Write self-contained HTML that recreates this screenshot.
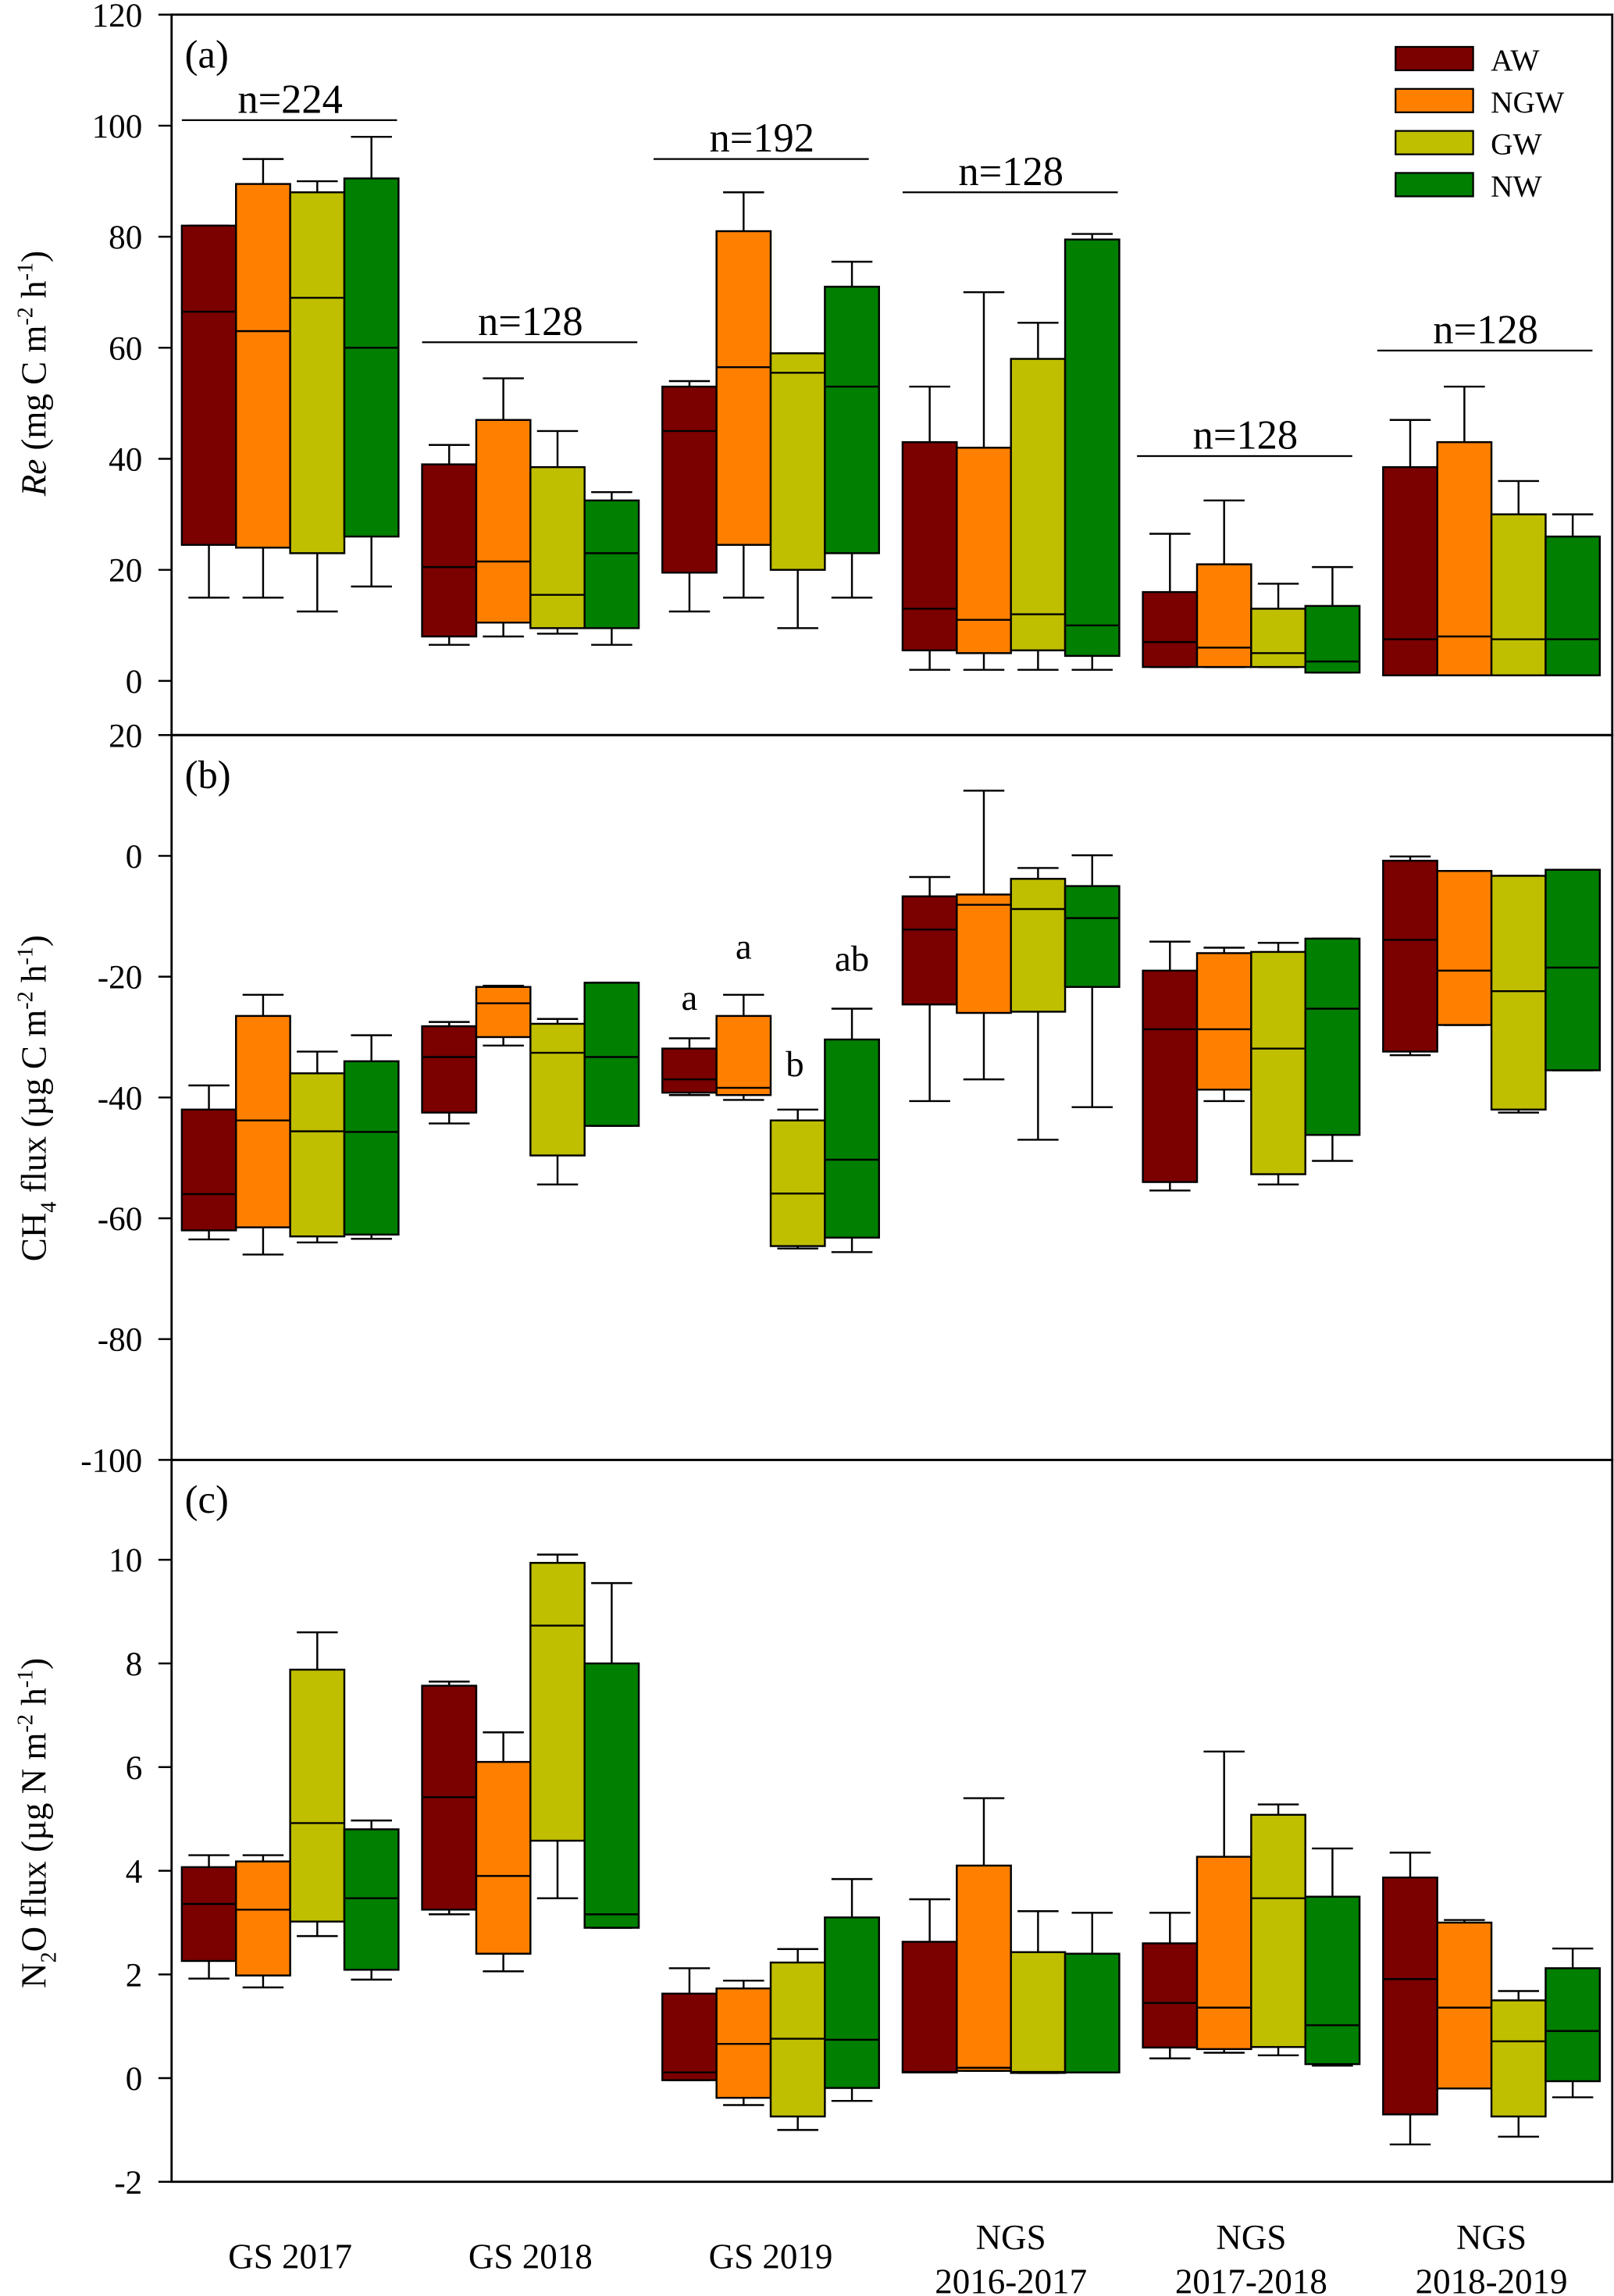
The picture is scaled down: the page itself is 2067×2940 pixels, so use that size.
<!DOCTYPE html>
<html><head><meta charset="utf-8"><style>
html,body{margin:0;padding:0;background:#fff}
svg{display:block}
text{font-family:"Liberation Serif",serif;fill:#000}
</style></head><body>
<svg id="chart" width="2067" height="2940" viewBox="0 0 1102 1568" xmlns="http://www.w3.org/2000/svg">
<rect x="0" y="0" width="1102" height="1568" fill="#fff"/>
<g id="g"></g>
</svg>
<script>
const groups = ["GS 2017","GS 2018","GS 2019","NGS|2016-2017","NGS|2017-2018","NGS|2018-2019"];
const series = ["AW","NGW","GW","NW"];
const colors = ["#7b0000","#ff8000","#bfbf00","#007f00"];
// [whiskerLow, q1, median, q3, whiskerHigh] per group per series
const reData = [
 [[15,24.5,66.5,82,82],[15,24,63,89.5,94],[12.5,23,69,88,90],[17,26,60,90.5,98]],
 [[6.5,8,20.5,39,42.5],[8,10.5,21.5,47,54.5],[8.5,9.5,15.5,38.5,45],[6.5,9.5,23,32.5,34]],
 [[12.5,19.5,45,53,54],[15,24.5,56.5,81,88],[9.5,20,55.5,59,59],[15,23,53,71,75.5]],
 [[2,5.5,13,43,53],[2,5,11,42,70],[2,5.5,12,58,64.5],[2,4.5,10,79.5,80.5]],
 [[2.5,2.5,7,16,26.5],[2.5,2.5,6,21,32.5],[2.5,2.5,5,13,17.5],[1.5,1.5,3.5,13.5,20.5]],
 [[1,1,7.5,38.5,47],[1,1,8,43,53],[1,1,7.5,30,36],[1,1,7.5,26,30]]
];
const ch4Data = [
 [[-63.5,-62,-56,-42,-38],[-66,-61.5,-43.8,-26.5,-23],[-64,-63,-45.6,-36,-32.4],[-63.4,-62.7,-45.7,-34,-29.7]],
 [[-44.3,-42.5,-33.3,-28.2,-27.5],[-31.4,-30,-24.4,-21.7,-21.5],[-54.4,-49.6,-32.6,-27.8,-27],[-44.7,-44.7,-33.3,-21,-21]],
 [[-39.6,-39.2,-37,-31.9,-30.2],[-40.4,-39.6,-38.4,-26.5,-23],[-65,-64.6,-55.9,-43.8,-42],[-65.6,-63.2,-50.3,-30.4,-25.3]],
 [[-40.6,-24.6,-12.2,-6.7,-3.5],[-37,-26,-8.1,-6.4,10.8],[-47,-25.8,-8.8,-3.8,-2],[-41.6,-21.7,-10.3,-5,0.1]],
 [[-55.4,-54,-28.7,-19,-14.2],[-40.6,-38.7,-28.7,-16.1,-15.2],[-54.4,-52.7,-31.9,-15.9,-14.4],[-50.5,-46.2,-25.3,-13.7,-13.7]],
 [[-33,-32.4,-13.9,-0.8,-0.1],[-28,-28,-19,-2.5,-2.5],[-42.5,-42,-22.4,-3.3,-3.3],[-35.5,-35.5,-18.5,-2.3,-2.3]]
];
const n2oData = [
 [[1.92,2.26,3.36,4.07,4.3],[1.75,1.98,3.25,4.18,4.3],[2.74,3.02,4.92,7.88,8.6],[1.9,2.09,3.47,4.8,4.97]],
 [[3.16,3.25,5.42,7.57,7.65],[2.06,2.4,3.9,6.1,6.67],[3.47,4.58,8.73,9.94,10.1],[2.9,2.9,3.16,8.0,9.55]],
 [[-0.04,-0.04,0.11,1.63,2.12],[-0.52,-0.38,0.66,1.73,1.88],[-1.0,-0.74,0.76,2.23,2.49],[-0.44,-0.19,0.74,3.1,3.84]],
 [[0.11,0.11,0.12,2.63,3.45],[0.14,0.14,0.2,4.1,5.4],[0.1,0.1,0.12,2.43,3.22],[0.11,0.11,0.11,2.4,3.19]],
 [[0.38,0.59,1.45,2.6,3.19],[0.49,0.56,1.36,4.27,6.3],[0.44,0.6,3.47,5.08,5.28],[0.24,0.27,1.02,3.5,4.43]],
 [[-1.28,-0.7,1.91,3.87,4.35],[-0.2,-0.2,1.36,3.0,3.05],[-1.13,-0.74,0.71,1.5,1.68],[-0.37,-0.06,0.91,2.12,2.5]]
];
const reTicks = [0,20,40,60,80,100,120];
const ch4Ticks = [-100,-80,-60,-40,-20,0,20];
const n2oTicks = [-2,0,2,4,6,8,10];
const nLabels = ["n=224","n=128","n=192","n=128","n=128","n=128"];
const nLevels = [101,61,94,88,40.5,59.5];
const sigLetters = [["a",-25.5],["a",-17],["b",-36.5],["ab",-19]];

const NS="http://www.w3.org/2000/svg";
const root=document.getElementById('g');
function el(tag,attrs,parent){const e=document.createElementNS(NS,tag);for(const k in attrs)e.setAttribute(k,attrs[k]);(parent||root).appendChild(e);return e;}
const X0=117,X1=1101,GROUP0=124,GSTEP=164.1,BW=37,CAP=28;
function boxX(gi,si){return GROUP0+gi*GSTEP+si*BW;}
function scale(d0,d1,p0,p1){return v=>p0+(v-d0)*(p1-p0)/(d1-d0);}
const panels=[
 {name:"re",data:reData,ticks:reTicks,y:scale(0,120,465,10),top:10,bot:502,lab:"(a)"},
 {name:"ch4",data:ch4Data,ticks:ch4Ticks,y:scale(-100,20,997,502),top:502,bot:997,lab:"(b)"},
 {name:"n2o",data:n2oData,ticks:n2oTicks,y:scale(-2,12,1490,994.4),top:997,bot:1490,lab:"(c)"}
];
panels.forEach((p,pi)=>{
  const pg=el('g',{});
  
  
  p.data.forEach((grp,gi)=>{
    grp.forEach((b,si)=>{
      const bg=el('g',{},pg);
      
      
      const x=boxX(gi,si),cx=x+BW/2;
      const yl=p.y(b[0]),q1=p.y(b[1]),md=p.y(b[2]),q3=p.y(b[3]),yh=p.y(b[4]);
      el('line',{x1:cx,x2:cx,y1:yh,y2:q3,stroke:'#000','stroke-width':1.3},bg);
      el('line',{x1:cx,x2:cx,y1:q1,y2:yl,stroke:'#000','stroke-width':1.3},bg);
      el('line',{x1:cx-CAP/2,x2:cx+CAP/2,y1:yh,y2:yh,stroke:'#000','stroke-width':1.3},bg);
      el('line',{x1:cx-CAP/2,x2:cx+CAP/2,y1:yl,y2:yl,stroke:'#000','stroke-width':1.3},bg);
      el('rect',{x:x,y:q3,width:BW,height:Math.max(q1-q3,0.5),fill:colors[si],stroke:'#000','stroke-width':1.3},bg);
      el('line',{x1:x,x2:x+BW,y1:md,y2:md,stroke:'#000','stroke-width':1.3},bg);
    });
  });
  el('rect',{x:X0,y:p.top,width:X1-X0,height:p.bot-p.top,fill:'none',stroke:'#000','stroke-width':1.5},pg);
  p.ticks.forEach(t=>{
    const y=p.y(t);
    el('line',{x1:X0-9,x2:X0,y1:y,y2:y,stroke:'#000','stroke-width':1.3},pg);
    const tx=el('text',{x:97,y:y+8,'font-size':23,'text-anchor':'end'},pg);
    tx.textContent=t;
    
    
  });
  const lb=el('text',{x:126,y:p.top+36,'font-size':27},pg);
  lb.textContent=p.lab;
  
  
});
nLabels.forEach((s,gi)=>{
  const y=panels[0].y(nLevels[gi]);
  const x0=GROUP0+gi*GSTEP-(gi==2?6:gi>=4?4:0);
  const ln=el('line',{x1:x0,x2:x0+147,y1:y,y2:y,stroke:'#000','stroke-width':1.2});
  
  
  const t=el('text',{x:x0+74,y:y-5,'font-size':28,'text-anchor':'middle'});
  t.textContent=s;
  
  
});
sigLetters.forEach((s,si)=>{
  const t=el('text',{x:boxX(2,si)+BW/2+(si==2?-2:0),y:panels[1].y(s[1]),'font-size':25,'text-anchor':'middle'});
  t.textContent=s[0];
  
  
});
series.forEach((s,si)=>{
  const y=40+si*28.7;
  const r=el('rect',{x:953,y:y-8,width:53,height:16,fill:colors[si],stroke:'#000','stroke-width':1.2});
  
  
  const t=el('text',{x:1018,y:y+8,'font-size':21});
  t.textContent=s;
  
  
});
groups.forEach((g,gi)=>{
  const cx=GROUP0+gi*GSTEP+2*BW;
  const parts=g.split('|');
  if(parts.length==1){
    const t=el('text',{x:cx,y:1549,'font-size':24,'text-anchor':'middle'});
    t.textContent=parts[0];
    
    
  } else {
    const t=el('text',{x:cx,y:1536,'font-size':24,'text-anchor':'middle'});
    t.textContent=parts[0];
    
    
    const t2=el('text',{x:cx,y:1566,'font-size':24,'text-anchor':'middle'});
    t2.textContent=parts[1];
    
    
  }
});
</script>
<svg style="position:absolute;left:0;top:0" width="2067" height="2940" viewBox="0 0 1102 1568" xmlns="http://www.w3.org/2000/svg">
<text transform="translate(31,255) rotate(-90)" text-anchor="middle" font-size="24"><tspan font-style="italic">Re</tspan> (mg C m<tspan dy="-9" font-size="15">-2</tspan><tspan dy="9"> h</tspan><tspan dy="-9" font-size="15">-1</tspan><tspan dy="9">)</tspan></text>
<text transform="translate(31,750) rotate(-90)" text-anchor="middle" font-size="24">CH<tspan dy="7" font-size="15">4</tspan><tspan dy="-7"> flux (µg C m</tspan><tspan dy="-9" font-size="15">-2</tspan><tspan dy="9"> h</tspan><tspan dy="-9" font-size="15">-1</tspan><tspan dy="9">)</tspan></text>
<text transform="translate(31,1245) rotate(-90)" text-anchor="middle" font-size="24">N<tspan dy="7" font-size="15">2</tspan><tspan dy="-7">O flux (µg N m</tspan><tspan dy="-9" font-size="15">-2</tspan><tspan dy="9"> h</tspan><tspan dy="-9" font-size="15">-1</tspan><tspan dy="9">)</tspan></text>
</svg>
</body></html>
